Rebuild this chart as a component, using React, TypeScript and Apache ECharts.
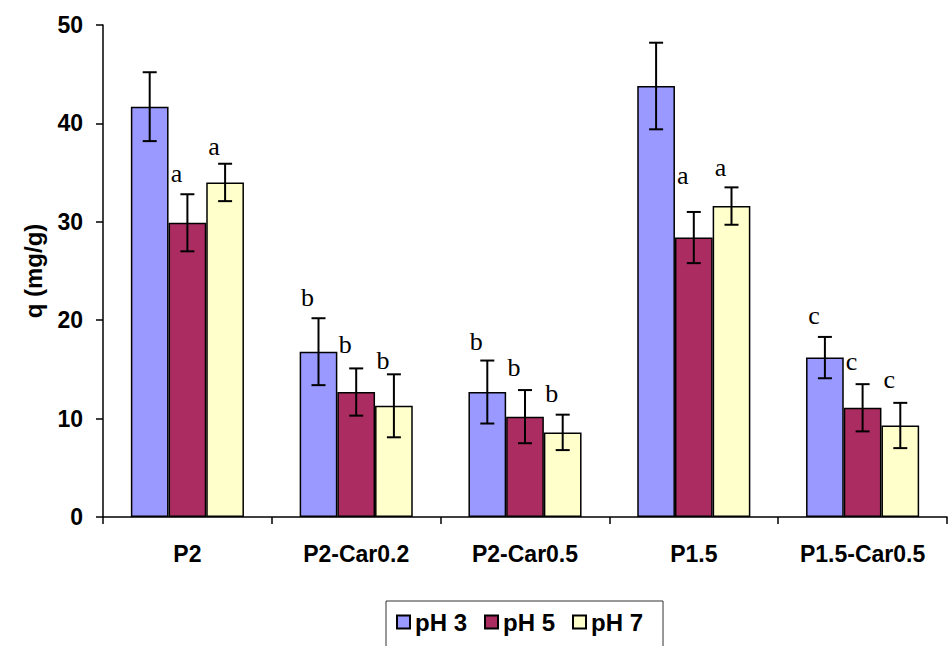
import React, { useEffect, useRef } from "react";
import * as echarts from "echarts";

const categories = ["P2", "P2-Car0.2", "P2-Car0.5", "P1.5", "P1.5-Car0.5"];
const seriesNames = ["pH 3", "pH 5", "pH 7"];
const colors = ["#9999FF", "#AB2C60", "#FFFFCC"];

const pH3Values = [41.7, 16.8, 12.7, 43.8, 16.2];
const pH5Values = [29.9, 12.7, 10.2, 28.4, 11.1];
const pH7Values = [34.0, 11.3, 8.6, 31.6, 9.3];

const pH3Errors = [3.5, 3.4, 3.2, 4.4, 2.1];
const pH5Errors = [2.9, 2.4, 2.7, 2.6, 2.4];
const pH7Errors = [1.9, 3.2, 1.8, 1.9, 2.3];

// significance letters and the height (in q units) at which they sit
const pH3Letters = ["", "b", "b", "", "c"];
const pH5Letters = ["a", "b", "b", "a", "c"];
const pH7Letters = ["a", "b", "b", "a", "c"];
const pH3LetterY = [0, 22.3, 17.8, 0, 20.5];
const pH5LetterY = [34.9, 17.5, 15.2, 34.7, 15.8];
const pH7LetterY = [37.7, 15.9, 12.6, 35.5, 14.0];

const yTicks = { min: 0, max: 50, interval: 10 };

const allValues = [pH3Values, pH5Values, pH7Values];
const allErrors = [pH3Errors, pH5Errors, pH7Errors];
const allLetters = [pH3Letters, pH5Letters, pH7Letters];
const allLetterY = [pH3LetterY, pH5LetterY, pH7LetterY];

const BAR_CAT_GAP = 0.33;

export default function App() {
  const ref = useRef<HTMLDivElement>(null);
  useEffect(() => {
    document.body.style.margin = "0";
    if (!ref.current) return;
    const chart = echarts.init(ref.current, null, { renderer: "svg" });
    const boldFont = "Liberation Sans";

    const barSeries = seriesNames.map((name, s) => ({
      name,
      type: "bar",
      data: allValues[s],
      barGap: "0%",
      barCategoryGap: "33%",
      itemStyle: { color: colors[s], borderColor: "#000", borderWidth: 1.5 },
      z: 2,
    }));

    const errSeries = seriesNames.map((name, s) => ({
      name: name + " err",
      type: "custom",
      z: 5,
      silent: true,
      data: categories.map((c, i) => [i, allValues[s][i], allErrors[s][i], allLetterY[s][i]]),
      renderItem: (params: any, api: any) => {
        const i = api.value(0);
        const v = api.value(1);
        const e = api.value(2);
        const ly = api.value(3);
        const letter = allLetters[s][i];
        const band = api.size([1, 0])[0];
        const bw = (band * (1 - BAR_CAT_GAP)) / 3;
        const off = (s - 1) * bw;
        const top = api.coord([i, v + e]);
        const bot = api.coord([i, v - e]);
        const cx = top[0] + off;
        const cap = 7;
        const st = { stroke: "#000", lineWidth: 2 };
        const children: any[] = [
          { type: "line", shape: { x1: cx, y1: top[1], x2: cx, y2: bot[1] }, style: st },
          { type: "line", shape: { x1: cx - cap, y1: top[1], x2: cx + cap, y2: top[1] }, style: st },
          { type: "line", shape: { x1: cx - cap, y1: bot[1], x2: cx + cap, y2: bot[1] }, style: st },
        ];
        if (letter) {
          const lp = api.coord([i, ly]);
          children.push({
            type: "text",
            x: cx - 11,
            y: lp[1],
            style: {
              text: letter,
              fill: "#000",
              fontSize: 26,
              fontFamily: "Liberation Serif",
              align: "center",
              verticalAlign: "middle",
            },
          });
        }
        return { type: "group", children };
      },
    }));

    chart.setOption({
      animation: false,
      backgroundColor: "#fff",
      grid: { left: 103, right: 4, top: 25, bottom: 129 },
      legend: {
        data: seriesNames,
        left: 386,
        top: 601,
        icon: "rect",
        itemWidth: 13,
        itemHeight: 13,
        itemGap: 17,
        padding: [9, 20, 14, 10],
        borderColor: "#333",
        borderWidth: 1,
        textStyle: { fontFamily: boldFont, fontWeight: "bold", fontSize: 24, color: "#000" },
      },
      xAxis: {
        type: "category",
        data: categories,
        axisLine: { lineStyle: { color: "#000", width: 1.5 } },
        axisTick: { show: true, length: 7, lineStyle: { color: "#000", width: 1.5 } },
        axisLabel: { fontFamily: boldFont, fontWeight: "bold", fontSize: 23, color: "#000", margin: 25 },
      },
      yAxis: {
        type: "value",
        min: yTicks.min,
        max: yTicks.max,
        interval: yTicks.interval,
        name: "q (mg/g)",
        nameLocation: "middle",
        nameGap: 58,
        nameTextStyle: { fontFamily: boldFont, fontWeight: "bold", fontSize: 24, color: "#000" },
        axisLine: { show: true, lineStyle: { color: "#000", width: 1.5 } },
        axisTick: { show: true, length: 7, lineStyle: { color: "#000", width: 1.5 } },
        splitLine: { show: false },
        axisLabel: { fontFamily: boldFont, fontWeight: "bold", fontSize: 23, color: "#000", margin: 20 },
      },
      series: [...barSeries, ...errSeries],
    });
    return () => chart.dispose();
  }, []);
  return <div ref={ref} style={{ width: 951, height: 646 }} />;
}
